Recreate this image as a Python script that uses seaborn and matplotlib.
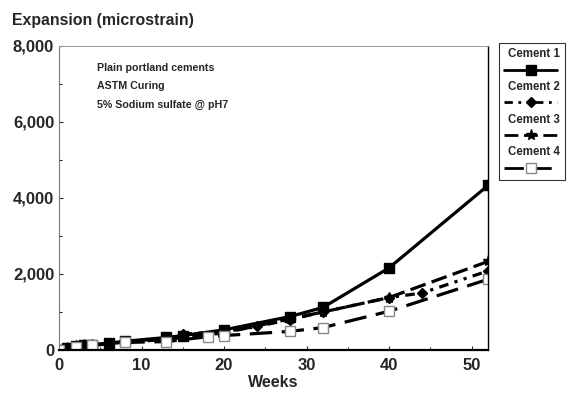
import matplotlib
matplotlib.use("Agg")
import matplotlib.pyplot as plt
from matplotlib.lines import Line2D
from matplotlib.ticker import FuncFormatter, MultipleLocator
import pandas as pd
import seaborn as sns

# Data
weeks_1 = [0, 1, 2, 3, 4, 6, 8, 13, 15, 20, 28, 32, 40, 52]
cement_1 = [0, 60, 100, 120, 140, 180, 230, 330, 380, 530, 880, 1120, 2160, 4330]

weeks_2 = [0, 1, 2, 3, 4, 6, 8, 13, 15, 20, 24, 28, 32, 40, 44, 52]
cement_2 = [0, 50, 90, 110, 130, 170, 220, 300, 420, 480, 620, 800, 1000, 1380, 1500, 2080]

weeks_3 = [0, 1, 2, 3, 4, 6, 8, 13, 15, 20, 28, 32, 40, 52]
cement_3 = [0, 60, 100, 120, 140, 170, 200, 280, 330, 450, 820, 1000, 1380, 2330]

weeks_4 = [0, 2, 4, 8, 13, 18, 20, 28, 32, 40, 52]
cement_4 = [0, 80, 120, 200, 220, 350, 380, 490, 590, 1020, 1860]

labels = ["Cement 1", "Cement 2", "Cement 3", "Cement 4"]
notes = ["Plain portland cements", "ASTM Curing", "5% Sodium sulfate @ pH7"]

sns.set_style("ticks")
plt.rcParams["font.family"] = ["Liberation Sans", "DejaVu Sans"]
plt.rcParams["font.weight"] = "bold"

fig = plt.figure(figsize=(5.67, 3.94), dpi=100)
ax = fig.add_axes([59 / 567, 1 - 350 / 394, 429 / 567, 304 / 394])

styles = [
    dict(linestyle="-", marker="s", markersize=7, color="black", mfc="black", mec="black"),
    dict(linestyle=(0, (3, 2, 1, 2, 1, 2)), marker="D", markersize=5, color="black", mfc="black", mec="black"),
    dict(linestyle=(0, (5, 2)), marker="*", markersize=8, color="black", mfc="black", mec="black"),
    dict(linestyle=(0, (7, 3)), marker="s", markersize=7, color="black", mfc="white", mec="#888888"),
]

series = [(weeks_1, cement_1), (weeks_2, cement_2), (weeks_3, cement_3), (weeks_4, cement_4)]
for (wk, vals), lab, st in zip(series, labels, styles):
    df = pd.DataFrame({"Weeks": wk, "Expansion": vals})
    sns.lineplot(data=df, x="Weeks", y="Expansion", ax=ax, linewidth=2.3,
                 markeredgewidth=1, legend=False, **st)

ax.set_xlim(0, 52)
ax.set_ylim(0, 8000)
ax.xaxis.set_major_locator(MultipleLocator(10))
ax.xaxis.set_minor_locator(MultipleLocator(5))
ax.yaxis.set_major_locator(MultipleLocator(2000))
ax.yaxis.set_minor_locator(MultipleLocator(1000))
ax.yaxis.set_major_formatter(FuncFormatter(lambda v, p: f"{int(v):,}"))
ax.tick_params(axis="both", which="both", direction="in", labelsize=12, length=3, width=0.8)
ax.tick_params(axis="both", which="minor", length=2)
ax.tick_params(axis="x", pad=6)

for lbl in ax.get_xticklabels() + ax.get_yticklabels():
    lbl.set_fontweight("bold")

ax.set_xlabel("Weeks", fontsize=11.5, fontweight="bold", labelpad=1)
ax.set_ylabel("")
fig.text(12 / 567, 1 - 21 / 394, "Expansion (microstrain)", fontsize=11.4,
         fontweight="bold", ha="left", va="center")

for name, sp in ax.spines.items():
    sp.set_visible(True)
    sp.set_color("black")
ax.spines["left"].set_color("#777777")
ax.spines["top"].set_color("#999999")
ax.spines["top"].set_linewidth(0.7)
ax.spines["bottom"].set_linewidth(1.6)
ax.spines["right"].set_linewidth(1.0)

ax.text(0.088, 0.945, "\n".join(notes), transform=ax.transAxes, fontsize=7.7,
        fontweight="bold", ha="left", va="top", linespacing=2.05)

# legend: label above each line sample
handles, texts = [], []
for lab, st in zip(labels, styles):
    handles.append(Line2D([], [], linestyle="none", marker=None))
    texts.append(lab)
    handles.append(Line2D([], [], linewidth=2, **st))
    texts.append("")
leg = fig.legend(handles, texts, loc="upper right",
                 bbox_to_anchor=(565 / 567, 1 - 43 / 394),
                 frameon=True, fancybox=False, edgecolor="black",
                 handlelength=4.6, handletextpad=-4.3, labelspacing=0.38,
                 borderpad=0.45, borderaxespad=0,
                 prop={"size": 8.3, "weight": "bold"})
leg.get_frame().set_linewidth(0.8)

fig.savefig("out.png", dpi=100)
